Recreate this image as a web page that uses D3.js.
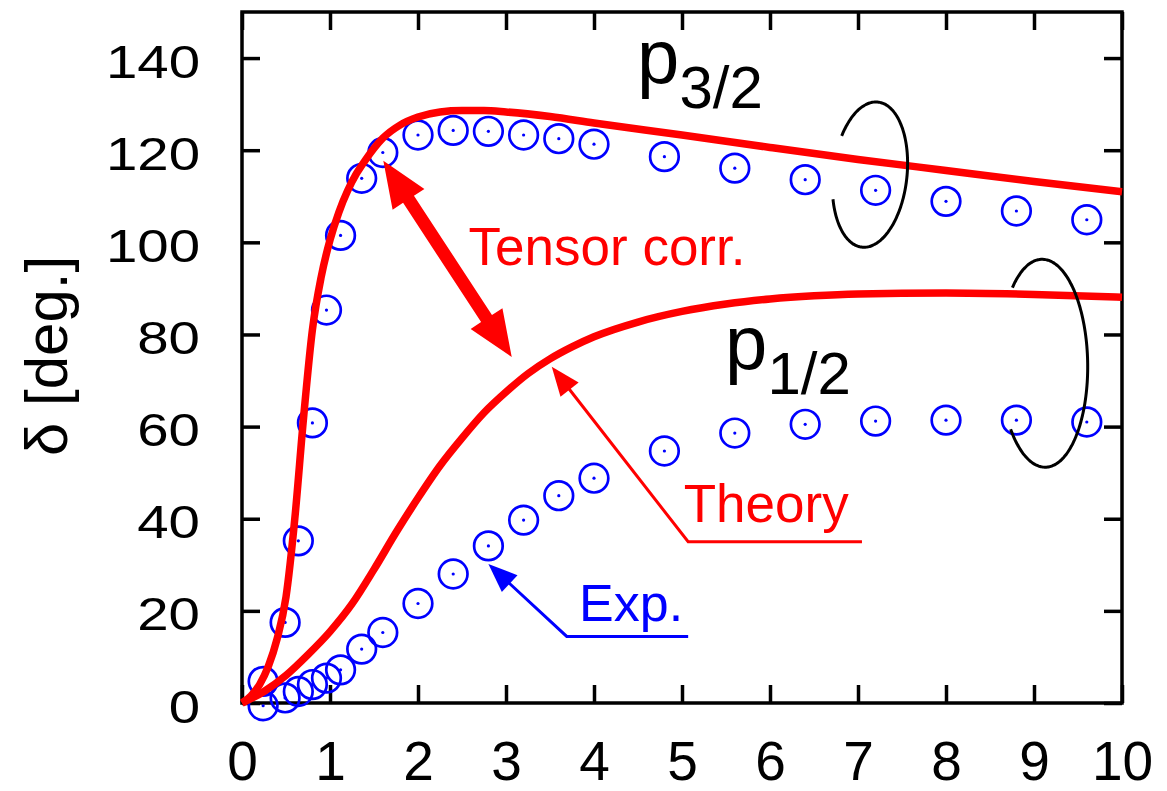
<!DOCTYPE html>
<html>
<head>
<meta charset="utf-8">
<script src="https://cdn.jsdelivr.net/npm/d3@7"></script>
<style>
  html, body { margin: 0; padding: 0; background: #fff; }
  svg { display: block; }
</style>
</head>
<body>
<svg id="chart" width="1167" height="791"></svg>
<script>
// Measured phase shifts (deg) at each energy (MeV)
const energy = [0.24, 0.49, 0.64, 0.80, 0.96, 1.12, 1.36, 1.60, 2.0, 2.4, 2.8, 3.2, 3.6, 4.0, 4.8, 5.6, 6.4, 7.2, 8.0, 8.8, 9.6];
const expP32 = [4.7, 17.5, 35.2, 60.8, 85.3, 101.5, 113.9, 119.5, 123.3, 124.3, 124.1, 123.3, 122.5, 121.3, 118.6, 116.1, 113.6, 111.3, 108.9, 106.8, 104.9];
const expP12 = [-0.6, 1.1, 2.5, 4.0, 5.4, 7.2, 11.7, 15.3, 21.6, 28.0, 34.1, 39.7, 45.0, 48.8, 54.7, 58.6, 60.5, 61.2, 61.4, 61.4, 61.0];

// Calculated phase shifts including the tensor correlation
const theoryEnergyP32 = [0, 0.1, 0.2, 0.3, 0.4, 0.5, 0.6, 0.7, 0.8, 0.9, 1.0, 1.1, 1.2, 1.3, 1.4, 1.6, 1.8, 2.0, 2.25, 2.5, 2.75, 3.0, 3.5, 4.0, 5.0, 6.0, 7.0, 8.0, 9.0, 10];
const theoryP32 = [0, 1.5, 4.0, 8.0, 14.0, 23.0, 40.0, 62.0, 81.0, 92.5, 100.5, 106.5, 111.2, 114.9, 117.8, 122.6, 125.5, 127.2, 128.3, 128.6, 128.6, 128.3, 127.3, 125.9, 123.3, 120.6, 118.0, 115.6, 113.2, 111.0];
const theoryEnergyP12 = [0, 0.25, 0.5, 0.75, 1.0, 1.25, 1.5, 1.75, 2.0, 2.25, 2.5, 2.75, 3.0, 3.25, 3.5, 3.75, 4.0, 4.5, 5.0, 5.5, 6.0, 6.5, 7.0, 8.0, 9.0, 10];
const theoryP12 = [0, 2.5, 6.0, 10.5, 15.5, 21.5, 29.0, 37.0, 44.5, 51.5, 57.5, 63.0, 67.5, 71.5, 74.7, 77.3, 79.5, 82.7, 85.0, 86.6, 87.7, 88.4, 88.8, 89.0, 88.7, 88.1];

// Axis ticks
const xTickValues = [0, 1, 2, 3, 4, 5, 6, 7, 8, 9, 10];
const yTickValues = [0, 20, 40, 60, 80, 100, 120, 140];

const FONT = '"Liberation Sans", Arial, Helvetica, sans-serif';
const RED = '#ff0000';
const BLUE = '#0000ff';

const W = 1167, H = 791;
const margin = { top: 12, right: 45, bottom: 88, left: 242 };

const x = d3.scaleLinear().domain([0, 10]).range([margin.left, W - margin.right]);
const y = d3.scaleLinear().domain([0, 150]).range([H - margin.bottom, margin.top]);

const svg = d3.select('#chart').attr('font-family', FONT);

// ---- axes: ticks point inward on all four sides ----
const tickLen = 18, axisStroke = 3.5;

function styleAxis(g) {
  g.select('.domain').remove();
  g.selectAll('.tick line').attr('stroke', '#000').attr('stroke-width', axisStroke);
  g.attr('font-family', FONT);
}

const gxBottom = svg.append('g')
  .attr('transform', `translate(0,${y(0)})`)
  .call(d3.axisBottom(x).tickValues(xTickValues).tickSize(-tickLen).tickFormat(d3.format('d')))
  .call(styleAxis);
gxBottom.attr('font-size', 55);
gxBottom.selectAll('.tick text').attr('y', 77).attr('dy', null).attr('fill', '#000');

svg.append('g')
  .attr('transform', `translate(0,${y(150)})`)
  .call(d3.axisTop(x).tickValues(xTickValues).tickSize(-tickLen).tickFormat(''))
  .call(styleAxis);

const gyLeft = svg.append('g')
  .attr('transform', `translate(${x(0)},0)`)
  .call(d3.axisLeft(y).tickValues(yTickValues).tickSize(-tickLen).tickFormat(d3.format('d')))
  .call(styleAxis);
gyLeft.attr('font-size', 47);
gyLeft.selectAll('.tick text')
  .attr('x', 0).attr('dy', null).attr('fill', '#000')
  .attr('text-anchor', 'end')
  .attr('transform', 'translate(-42,19) scale(1.2,1)');

svg.append('g')
  .attr('transform', `translate(${x(10)},0)`)
  .call(d3.axisRight(y).tickValues(yTickValues).tickSize(-tickLen).tickFormat(''))
  .call(styleAxis);

// frame
svg.append('rect')
  .attr('x', x(0)).attr('y', y(150))
  .attr('width', x(10) - x(0)).attr('height', y(0) - y(150))
  .attr('fill', 'none').attr('stroke', '#000').attr('stroke-width', axisStroke);

// y-axis title
svg.append('text')
  .attr('transform', `translate(67,356) rotate(-90)`)
  .attr('text-anchor', 'middle')
  .attr('font-size', 60)
  .attr('fill', '#000')
  .text('δ [deg.]');

// ---- experimental points: open circles with a centre dot ----
function drawPoints(values) {
  const pts = energy.map((e, i) => ({ e, v: values[i] }));
  const g = svg.append('g');
  g.selectAll('circle.ring').data(pts).join('circle')
    .attr('class', 'ring')
    .attr('cx', d => x(d.e)).attr('cy', d => y(d.v)).attr('r', 14.3)
    .attr('fill', 'none').attr('stroke', BLUE).attr('stroke-width', 2.7);
  g.selectAll('circle.dot').data(pts).join('circle')
    .attr('class', 'dot')
    .attr('cx', d => x(d.e)).attr('cy', d => y(d.v)).attr('r', 1.6)
    .attr('fill', BLUE);
}
drawPoints(expP32);
drawPoints(expP12);

// ---- theory curves ----
const line = d3.line().x(d => x(d[0])).y(d => y(d[1])).curve(d3.curveMonotoneX);
function drawCurve(xs, vs) {
  svg.append('path')
    .datum(xs.map((e, i) => [e, vs[i]]))
    .attr('d', line)
    .attr('fill', 'none').attr('stroke', RED).attr('stroke-width', 7.5)
    .attr('stroke-linejoin', 'round');
}
drawCurve(theoryEnergyP32, theoryP32);
drawCurve(theoryEnergyP12, theoryP12);

// ---- annotations ----
function pt(p) { return [x(p[0]), y(p[1])]; }

// filled arrow between two points (heads at one or both ends)
function arrowPolygon(a, b, shaftW, headL, headW, double) {
  const dx = b[0] - a[0], dy = b[1] - a[1];
  const len = Math.hypot(dx, dy);
  const d = [dx / len, dy / len], n = [-d[1], d[0]];
  const at = (p, s, t) => [p[0] + d[0] * s + n[0] * t, p[1] + d[1] * s + n[1] * t];
  const pts = [];
  if (double) {
    pts.push(a, at(a, headL, headW), at(a, headL, shaftW / 2));
  } else {
    pts.push(at(a, 0, shaftW / 2));
  }
  pts.push(at(b, -headL, shaftW / 2), at(b, -headL, headW), b, at(b, -headL, -headW), at(b, -headL, -shaftW / 2));
  if (double) {
    pts.push(at(a, headL, -shaftW / 2), at(a, headL, -headW));
  } else {
    pts.push(at(a, 0, -shaftW / 2));
  }
  return pts.map(p => p.join(',')).join(' ');
}

// "Tensor corr." double arrow between the two calculations
svg.append('polygon')
  .attr('points', arrowPolygon(pt([1.606, 117.7]), pt([3.065, 75.1]), 13, 46, 19, true))
  .attr('fill', RED);
svg.append('text')
  .attr('x', x(2.575)).attr('y', y(95.0))
  .attr('font-size', 53).attr('fill', RED)
  .text('Tensor corr.');

// leader line with an arrow head at the end
function leader(points, color) {
  const px = points.map(pt);
  const tip = px[px.length - 1], prev = px[px.length - 2];
  const headL = 29, headW = 11.5;
  const dx = tip[0] - prev[0], dy = tip[1] - prev[1];
  const len = Math.hypot(dx, dy);
  const ux = dx / len, uy = dy / len;
  const base = [tip[0] - ux * headL, tip[1] - uy * headL];
  svg.append('path')
    .attr('d', d3.line()([...px.slice(0, -1), [base[0] + ux * 2, base[1] + uy * 2]]))
    .attr('fill', 'none').attr('stroke', color).attr('stroke-width', 3);
  svg.append('polygon')
    .attr('points', [tip,
      [base[0] - uy * headW, base[1] + ux * headW],
      [base[0] + uy * headW, base[1] - ux * headW]].map(p => p.join(',')).join(' '))
    .attr('fill', color);
}

leader([[7.045, 35.0], [5.07, 35.0], [3.52, 73.0]], RED);
svg.append('text')
  .attr('x', x(5.02)).attr('y', y(39.3))
  .attr('font-size', 53).attr('fill', RED)
  .text('Theory');

leader([[5.07, 14.45], [3.69, 14.45], [2.80, 30.2]], BLUE);
svg.append('text')
  .attr('x', x(3.83)).attr('y', y(17.9))
  .attr('font-size', 52).attr('fill', BLUE)
  .text('Exp.');

// partial-wave labels
function waveLabel(px, py, sub) {
  const t = svg.append('text')
    .attr('x', x(px)).attr('y', y(py))
    .attr('font-size', 76).attr('fill', '#000');
  t.append('tspan').text('p');
  t.append('tspan').attr('font-size', 60).attr('dy', 25).text(sub);
}
waveLabel(4.49, 134.5, '3/2');
waveLabel(5.49, 72.5, '1/2');

// open ellipses grouping each pair of curves
function openEllipse(c, rx, ry, rotDeg, t0, t1) {
  const [cx, cy] = pt(c);
  const th = rotDeg * Math.PI / 180;
  const pts = d3.range(t0, t1 + 0.5, 2).map(tDeg => {
    const t = tDeg * Math.PI / 180;
    const u = rx * Math.cos(t), v = ry * Math.sin(t);
    return [cx + u * Math.cos(th) - v * Math.sin(th), cy + u * Math.sin(th) + v * Math.cos(th)];
  });
  svg.append('path')
    .attr('d', d3.line().curve(d3.curveBasis)(pts))
    .attr('fill', 'none').attr('stroke', '#000').attr('stroke-width', 3);
}
openEllipse([7.136, 114.7], 37, 73, 6.3, -151, 157);
openEllipse([9.11, 73.75], 44, 104, -1, -133, 141);
</script>
</body>
</html>
